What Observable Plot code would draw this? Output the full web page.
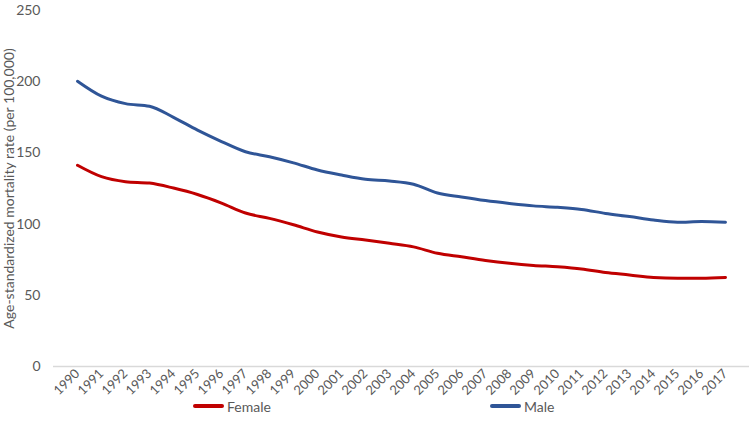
<!DOCTYPE html>
<html>
<head>
<meta charset="utf-8">
<script src="https://cdn.jsdelivr.net/npm/d3@7"></script>
<script src="https://cdn.jsdelivr.net/npm/@observablehq/plot@0.6"></script>
<style>
  body { margin: 0; background: #fff; font-family: Lato, "Open Sans", sans-serif; }
  #wrap { position: relative; width: 750px; height: 443px; }
  #legend { position: absolute; top: 396px; left: 0; width: 750px; height: 20px; font-size: 14px; color: #595959; }
  .item { position: absolute; top: 0; display: flex; align-items: center; height: 20px; }
  .sw { width: 31px; height: 4px; border-radius: 2px; margin-right: 3px; }
</style>
</head>
<body>
<div id="wrap">
  <div id="chart"></div>
  <div id="legend"></div>
</div>
<script>
const years = [1990,1991,1992,1993,1994,1995,1996,1997,1998,1999,2000,2001,2002,2003,2004,2005,2006,2007,2008,2009,2010,2011,2012,2013,2014,2015,2016,2017];
const male = [200.3,189.8,184.6,182.8,175,166,158,150.8,147.3,143,138,134.5,131.5,130.3,128,121.8,119,116.5,114.5,112.8,111.8,110.3,107.5,105.3,102.8,101.3,101.8,101.3];
const female = [141.3,133.3,129.8,128.8,125.3,120.8,114.8,107.8,104,99.5,94.5,91,88.8,86.5,84,79.5,77,74.5,72.5,71,70,68.5,66,64.3,62.5,62,62,62.5];
const yTicks = [0,50,100,150,200,250];
const seriesNames = ["Female","Male"];
const seriesColors = ["#C00000","#2F5597"];

const data = [];
years.forEach((y,i) => {
  data.push({year: String(y), value: female[i], series: "Female"});
  data.push({year: String(y), value: male[i], series: "Male"});
});

const chart = Plot.plot({
  width: 750,
  height: 400,
  marginTop: 10,
  marginLeft: 53,
  marginRight: 1,
  marginBottom: 34,
  style: {fontFamily: "Lato, 'Open Sans', sans-serif", fontSize: "13px", color: "#595959", background: "#fff"},
  x: {type: "point", domain: years.map(String), padding: 0.5, label: null},
  y: {domain: [0,250], label: null},
  color: {domain: seriesNames, range: seriesColors},
  marks: [
    Plot.ruleY([0], {stroke: "#d9d9d9", strokeWidth: 1.3}),
    Plot.axisY({ticks: yTicks, tickSize: 0, tickPadding: 13, label: null, fontSize: 14}),
    Plot.axisX({tickSize: 0, tickRotate: -45, tickPadding: 5, label: null, fontSize: 13}),
    Plot.text(["Age-standardized mortality rate (per 100,000)"], {frameAnchor: "left", dx: -44, dy: 0, rotate: -90, fontSize: 14, fill: "#595959", textAnchor: "middle"}),
    Plot.line(data, {x: "year", y: "value", z: "series", stroke: "series", strokeWidth: 3, curve: "monotone-x"})
  ]
});
document.getElementById("chart").appendChild(chart);

const legend = document.getElementById("legend");
const lefts = [193, 490];
seriesNames.forEach((n,i) => {
  const d = document.createElement("div");
  d.className = "item";
  d.style.left = lefts[i] + "px";
  d.innerHTML = `<span class="sw" style="background:${seriesColors[i]}"></span><span>${n}</span>`;
  legend.appendChild(d);
});
</script>
</body>
</html>
